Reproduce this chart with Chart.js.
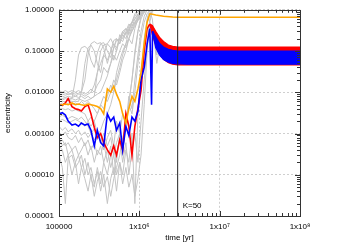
<!DOCTYPE html>
<html>
<head>
  <meta charset="utf-8">
  <title>Eccentricity vs time</title>
  <script src="https://cdn.jsdelivr.net/npm/chart.js"></script>
  <style>
    body { margin: 0; background: #fff; }
    canvas { display: block; }
  </style>
</head>
<body>
  <canvas id="chartCanvas" width="350" height="245"></canvas>

  <script>
    // shared time grid for the early, chaotic phase [yr]
    const times = [1.0e5, 1.1e5, 1.2e5, 1.3e5, 1.45e5, 1.6e5, 1.75e5, 1.9e5, 2.1e5, 2.3e5,
      2.5e5, 2.75e5, 3.0e5, 3.3e5, 3.6e5, 4.0e5, 4.4e5, 4.8e5, 5.2e5, 5.7e5,
      6.2e5, 6.8e5, 7.4e5, 8.1e5, 8.8e5, 9.6e5, 1.05e6, 1.15e6, 1.25e6, 1.35e6,
      1.45e6, 1.55e6, 1.65e6, 1.75e6];

    const xTicks = [1e5, 1e6, 1e7, 1e8];
    const xTickLabels = ['100000', '1x10\u2076', '1x10\u2077', '1x10\u2078'];
    const yTicks = [1e-5, 1e-4, 1e-3, 1e-2, 1e-1, 1];

    const kTime = 3.0e6;
    const kLabel = 'K=50';

    // highlighted planets, early phase (on times[0..29])
    const redEarly = [5e-3, 4.8e-3, 5.5e-3, 7e-3, 4.5e-3, 4e-3, 3.8e-3, 3.5e-3, 4.5e-3, 5e-3,
      3e-3, 1.4e-3, 8e-4, 1e-3, 6e-4, 4e-4, 3e-4, 5e-4, 3e-4, 7e-4,
      4e-4, 3e-3, 1.5e-3, 3e-4, 1.5e-3, 4e-3, 1.1e-2, 0.1, 0.35, 0.45];
    const blueEarly = [3e-3, 3.2e-3, 2.8e-3, 2e-3, 1.6e-3, 1.7e-3, 1.5e-3, 1.8e-3, 1.6e-3, 1.7e-3,
      1.2e-3, 5e-4, 1.2e-3, 6e-4, 5e-4, 3e-3, 2e-3, 2.5e-3, 1.2e-3, 1.8e-3,
      4e-4, 1.5e-3, 9e-4, 2.5e-3, 2e-3, 3.5e-3, 2e-2, 4e-2, 0.15, 0.35];
    const blueDipTime = 1.42e6;
    const blueDip = 5e-3;
    const orangeEarly = [4.7e-3, 5e-3, 5.2e-3, 5e-3, 5.5e-3, 5e-3, 5.2e-3, 5e-3, 4.8e-3, 5.2e-3,
      5e-3, 4.8e-3, 4.5e-3, 4e-3, 3e-3, 1.2e-2, 1e-2, 1.4e-2, 9e-3, 6e-3,
      3e-3, 1.8e-3, 4e-3, 8e-3, 6e-3, 1.2e-2, 3e-2, 0.15, 0.5, 0.8];

    // late phase: orange settles, red/blue oscillate inside an envelope
    const orangeLateTimes = [1.45e6, 1.6e6, 2.0e6, 2.6e6, 3.0e6, 1e7, 1e8];
    const orangeLate = [0.78, 0.75, 0.7, 0.67, 0.66, 0.66, 0.66];

    const redBandTimes = [1.35e6, 1.45e6, 1.6e6, 1.8e6, 2.0e6, 2.3e6, 2.6e6, 3.0e6, 4.0e6, 1e7, 3e7, 1e8];
    const redUpper = [0.45, 0.42, 0.3, 0.21, 0.17, 0.14, 0.13, 0.125, 0.125, 0.125, 0.125, 0.125];
    const redLower = [0.45, 0.25, 0.14, 0.085, 0.063, 0.052, 0.048, 0.046, 0.046, 0.046, 0.046, 0.046];

    const blueBandTimes = [1.46e6, 1.6e6, 1.8e6, 2.0e6, 2.3e6, 2.6e6, 3.0e6, 4.0e6, 1e7, 3e7, 1e8];
    const blueUpper = [0.3, 0.22, 0.15, 0.125, 0.11, 0.104, 0.1, 0.1, 0.1, 0.1, 0.1];
    const blueLower = [0.3, 0.12, 0.078, 0.062, 0.054, 0.05, 0.049, 0.048, 0.048, 0.048, 0.048];

    // the other planets (grey), on the shared time grid
    const greys = [
      [9e-3, 9e-3, 8.5e-3, 9e-3, 9e-3, 8e-3, 9e-3, 9e-3, 8e-3, 9e-3, 1e-2, 1.5e-2, 3e-2, 5e-2, 8e-2, 6e-2, 0.1, 0.15, 0.12, 0.2, 0.3, 0.25, 0.4, 0.5, 0.7, 0.9, 1.0],
      [7e-3, 7e-3, 7.5e-3, 7e-3, 7e-3, 2e-2, 8e-2, 0.12, 0.13, 0.11, 0.06, 0.04, 0.09, 0.15, 0.16, 0.1, 0.07, 0.12, 0.2, 0.15, 0.25, 0.35, 0.3, 0.5, 0.6, 0.8, 0.95, 1.0],
      [6e-3, 6e-3, 6e-3, 6.5e-3, 6e-3, 6e-3, 6e-3, 1e-2, 5e-2, 0.12, 0.14, 0.1, 0.05, 0.03, 0.08, 0.15, 0.2, 0.14, 0.1, 0.25, 0.2, 0.3, 0.45, 0.4, 0.6, 0.75, 0.9, 1.0],
      [3e-4, 1.5e-4, 2e-5, 2.5e-4, 3e-4, 1.5e-4, 2e-4, 3e-4, 1e-4, 2e-4, 8e-5, 5e-5, 1.5e-4, 6e-5, 2e-4, 1e-4, 3e-4, 5e-4, 2e-4, 1e-3, 5e-4, 2e-3, 5e-3, 2e-2, 0.1, 0.3, 0.6, 0.9, 1.0],
      [1.5e-3, 1.2e-3, 1.4e-3, 1.1e-3, 1.3e-3, 1e-3, 1.2e-3, 9e-4, 1.1e-3, 8e-4, 1e-3, 7e-4, 9e-4, 1.2e-3, 2e-3, 3e-3, 5e-3, 1e-2, 2e-2, 4e-2, 8e-2, 0.15, 0.3, 0.5, 0.8, 1.0],
      [8e-4, 5e-4, 6e-4, 3e-4, 4e-4, 2e-4, 3e-4, 1.5e-4, 2.5e-4, 1e-4, 1.5e-4, 6e-5, 1.2e-4, 4e-5, 1e-4, 2e-5, 8e-5, 1.5e-4, 4e-5, 2e-4, 1e-4, 4e-4, 2e-4, 1e-3, 2e-5, 3e-3, 3e-2, 0.2, 0.6, 1.0],
      [5e-3, 5.5e-3, 5e-3, 5.5e-3, 5e-3, 5.5e-3, 5e-3, 6e-3, 5e-3, 6e-3, 5e-3, 4e-3, 3e-3, 5e-3, 8e-3, 6e-3, 1e-2, 2e-2, 1.5e-2, 3e-2, 6e-2, 0.1, 0.2, 0.15, 0.35, 0.6, 0.9, 1.0],
      [4e-3, 4e-3, 3.8e-3, 4e-3, 3.5e-3, 3.8e-3, 3.5e-3, 3.3e-3, 3e-3, 2e-3, 1.5e-3, 2e-3, 1e-3, 6e-4, 1e-3, 5e-4, 8e-4, 3e-4, 6e-4, 1e-3, 3e-4, 2e-3, 5e-3, 3e-3, 1e-2, 5e-2, 0.2, 0.5, 0.8, 1.0],
      [1.1e-2, 1e-2, 1.1e-2, 1e-2, 1.1e-2, 1e-2, 1.1e-2, 1e-2, 2e-2, 8e-2, 0.15, 0.17, 0.15, 0.16, 0.12, 0.05, 0.1, 0.18, 0.2, 0.15, 0.3, 0.35, 0.25, 0.4, 0.5, 0.7, 0.85, 1.0],
      [8e-3, 8e-3, 7.5e-3, 8e-3, 7.5e-3, 8e-3, 7.5e-3, 8e-3, 7e-3, 8e-3, 7e-3, 8e-3, 9e-3, 1e-2, 1.5e-2, 2.5e-2, 5e-2, 0.12, 0.18, 0.2, 0.17, 0.28, 0.32, 0.3, 0.45, 0.55, 0.7, 0.95, 1.0],
      [7e-3, 6.5e-3, 7e-3, 6.5e-3, 7e-3, 6.5e-3, 7e-3, 6.5e-3, 6e-3, 6.5e-3, 7e-3, 8e-3, 3e-2, 0.1, 0.14, 0.15, 0.12, 0.06, 0.1, 0.2, 0.25, 0.2, 0.35, 0.5, 0.45, 0.65, 0.8, 1.0],
      [2e-3, 2.2e-3, 2e-3, 1.8e-3, 2e-3, 2.2e-3, 2e-3, 1.8e-3, 1.5e-3, 2e-3, 2.5e-3, 2e-3, 3e-3, 5e-3, 4e-3, 8e-3, 1.5e-2, 1e-2, 3e-2, 6e-2, 0.1, 0.15, 0.2, 0.35, 0.5, 0.6, 0.8, 0.9, 0.7, 0.5, 0.3, 0.15, 0.05, 0.1],
      [5e-4, 4e-4, 2e-4, 3e-4, 1e-4, 2e-4, 6e-5, 1.5e-4, 8e-5, 4e-5, 1e-4, 3e-5, 7e-5, 1.2e-4, 5e-5, 9e-5, 3e-5, 8e-5, 1.5e-4, 3e-4, 8e-4, 1.5e-3, 6e-3, 2e-2, 0.08, 0.3, 0.7, 1.0],
      [1e-3, 9e-4, 1.1e-3, 8e-4, 7e-4, 9e-4, 6e-4, 8e-4, 5e-4, 7e-4, 4e-4, 6e-4, 3e-4, 5e-4, 2e-4, 4e-4, 1.5e-4, 3e-4, 1e-4, 2e-4, 6e-5, 1.5e-4, 5e-5, 1e-4, 3e-5, 8e-5, 3e-4, 5e-3, 0.1, 0.5, 0.9, 1.0],
      [6e-4, 7e-4, 5e-4, 6e-4, 4e-4, 5e-4, 3e-4, 4e-4, 6e-4, 3e-4, 5e-4, 2e-4, 4e-4, 3e-4, 6e-4, 2e-4, 5e-4, 1e-4, 3e-4, 8e-4, 2e-4, 6e-4, 1e-4, 4e-4, 1e-3, 2e-4, 2e-3, 2e-2, 0.15, 0.6, 1.0],
      [2.5e-3, 2.8e-3, 2.5e-3, 2.3e-3, 2.6e-3, 2.4e-3, 2.2e-3, 2.5e-3, 2e-3, 1.5e-3, 1e-3, 1.3e-3, 7e-4, 1e-3, 4e-4, 8e-4, 1.2e-3, 5e-4, 2e-3, 1e-3, 3e-3, 1.5e-3, 8e-3, 4e-3, 2e-2, 8e-2, 0.3, 0.7, 1.0],
      [9.5e-3, 1e-2, 9.5e-3, 9e-3, 9.5e-3, 9e-3, 9.5e-3, 1e-2, 9e-3, 1e-2, 1.2e-2, 1e-2, 1.5e-2, 2e-2, 4e-2, 3e-2, 5e-2, 8e-2, 0.06, 0.1, 0.15, 0.12, 0.2, 0.3, 0.4, 0.55, 0.75, 0.9, 1.0, 0.95, 0.6, 0.2, 0.08, 0.15]
    ];

    function pts(ts, vs) {
      return vs.map((v, i) => ({ x: ts[i], y: v }));
    }

    const font = { family: '"Liberation Sans", Arial, sans-serif', size: 8 };

    const datasets = [];
    datasets.push({
      data: [{ x: kTime, y: yTicks[0] }, { x: kTime, y: yTicks[yTicks.length - 1] }],
      borderColor: '#222', borderWidth: 1, order: 0
    });
    datasets.push({
      data: pts(times, orangeEarly).concat(pts(orangeLateTimes, orangeLate)),
      borderColor: '#ffa500', borderWidth: 1.6, order: 0
    });
    datasets.push({
      data: pts(times, blueEarly).concat([{ x: blueDipTime, y: blueDip }, { x: blueBandTimes[0], y: blueUpper[0] }]),
      borderColor: '#0000ff', borderWidth: 1.6, order: 1
    });
    datasets.push({
      data: pts(blueBandTimes, blueUpper),
      borderColor: '#0000ff', backgroundColor: '#0000ff', borderWidth: 1.2, fill: '+1', order: 1
    });
    datasets.push({
      data: pts(blueBandTimes, blueLower),
      borderColor: '#0000ff', borderWidth: 1.2, order: 1
    });
    datasets.push({
      data: pts(times, redEarly),
      borderColor: '#ff0000', borderWidth: 1.6, order: 2
    });
    datasets.push({
      data: pts(redBandTimes, redUpper),
      borderColor: '#ff0000', backgroundColor: '#ff0000', borderWidth: 1.2, fill: '+1', order: 2
    });
    datasets.push({
      data: pts(redBandTimes, redLower),
      borderColor: '#ff0000', borderWidth: 1.2, order: 2
    });
    greys.forEach(g => {
      datasets.push({ data: pts(times, g), borderColor: '#c4c4c4', borderWidth: 1, order: 3 });
    });

    // gnuplot-like frame: box, inner major/minor ticks, K label
    const frame = {
      id: 'frame',
      afterDraw(chart) {
        const { ctx, chartArea: a, scales: { x, y } } = chart;
        ctx.save();
        ctx.strokeStyle = '#333';
        ctx.lineWidth = 1;
        ctx.beginPath();
        for (let d = 5; d < 8; d++) {
          for (let m = 1; m < 10; m++) {
            const px = Math.round(x.getPixelForValue(m * Math.pow(10, d))) + 0.5;
            const len = m === 1 ? 5 : 3;
            ctx.moveTo(px, a.bottom); ctx.lineTo(px, a.bottom - len);
            ctx.moveTo(px, a.top); ctx.lineTo(px, a.top + len);
          }
        }
        for (let d = -5; d < 0; d++) {
          for (let m = 1; m < 10; m++) {
            const py = Math.round(y.getPixelForValue(m * Math.pow(10, d))) + 0.5;
            const len = m === 1 ? 5 : 3;
            ctx.moveTo(a.left, py); ctx.lineTo(a.left + len, py);
            ctx.moveTo(a.right, py); ctx.lineTo(a.right - len, py);
          }
        }
        ctx.stroke();
        ctx.strokeRect(Math.round(a.left) + 0.5, Math.round(a.top) + 0.5,
          Math.round(a.right - a.left), Math.round(a.bottom - a.top));
        ctx.fillStyle = '#000';
        ctx.font = '8px "Liberation Sans", Arial, sans-serif';
        ctx.fillText(kLabel, x.getPixelForValue(kTime) + 5, a.bottom - 8);
        ctx.restore();
      }
    };

    new Chart(document.getElementById('chartCanvas').getContext('2d'), {
      type: 'line',
      data: { datasets: datasets },
      options: {
        responsive: false,
        animation: false,
        layout: { padding: { left: 0, right: 50, top: 8, bottom: 0 } },
        elements: { point: { radius: 0 }, line: { tension: 0 } },
        plugins: { legend: { display: false }, tooltip: { enabled: false } },
        scales: {
          x: {
            type: 'logarithmic', min: 1e5, max: 1e8,
            afterBuildTicks: s => { s.ticks = xTicks.map(v => ({ value: v })); },
            afterFit: s => { s.height = 29; },
            ticks: { callback: (v, i) => xTickLabels[i], autoSkip: false, maxRotation: 0, padding: 6, color: '#000', font: font },
            grid: { color: '#cfcfcf', drawTicks: false },
            border: { display: false, dash: [2, 2] },
            title: { display: true, text: 'time [yr]', color: '#000', font: font, padding: { top: 0, bottom: 2 } }
          },
          y: {
            type: 'logarithmic', min: 1e-5, max: 1,
            afterBuildTicks: s => { s.ticks = yTicks.map(v => ({ value: v })); },
            afterFit: s => { s.width = 59; },
            ticks: { callback: v => Number(v).toFixed(5), autoSkip: false, padding: 5, color: '#000', font: font },
            grid: { color: '#cfcfcf', drawTicks: false },
            border: { display: false, dash: [2, 2] },
            title: { display: true, text: 'eccentricity', color: '#000', font: font, padding: { top: 3, bottom: 0 } }
          }
        }
      },
      plugins: [frame]
    });
  </script>
</body>
</html>
